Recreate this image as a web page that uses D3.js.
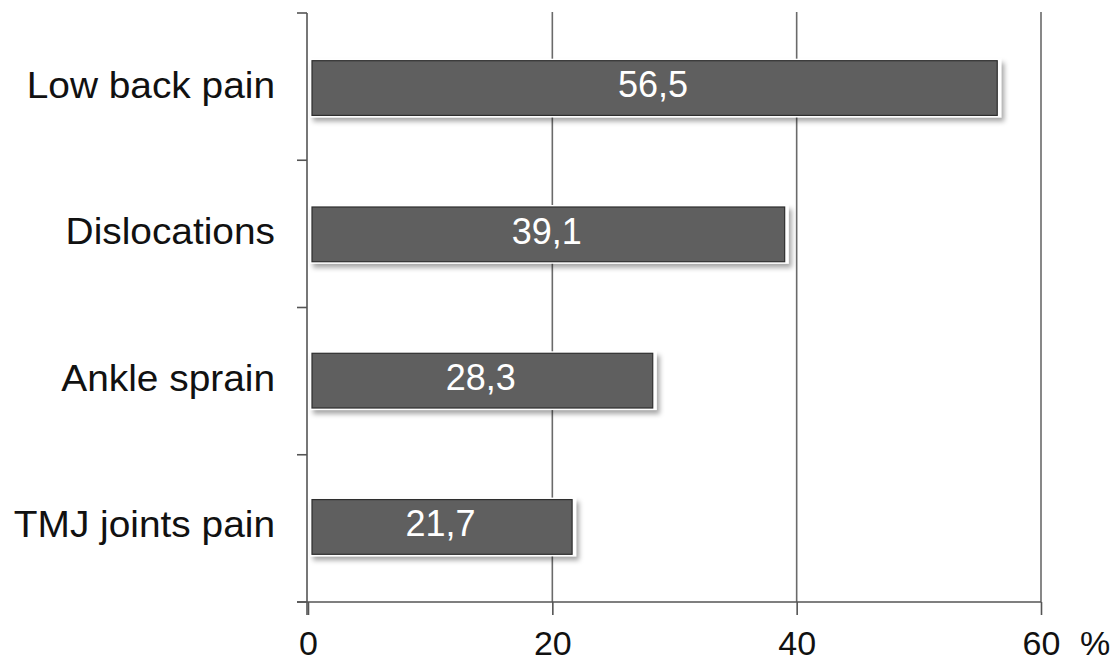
<!DOCTYPE html>
<html>
<head>
<meta charset="utf-8">
<script src="https://cdn.jsdelivr.net/npm/d3@7"></script>
<style>
  html, body { margin: 0; padding: 0; background: #ffffff; }
  svg { display: block; }
  text { font-family: "Liberation Sans", Arial, sans-serif; }
</style>
</head>
<body>
<svg id="chart" width="1118" height="663"></svg>
<script>
// Share of respondents reporting each condition, %
const categories = ["Low back pain", "Dislocations", "Ankle sprain", "TMJ joints pain"];
const values = [56.5, 39.1, 28.3, 21.7];
const valueLabels = ["56,5", "39,1", "28,3", "21,7"];
const xTicks = [0, 20, 40, 60];
const unitLabel = "%";

const svg = d3.select("#chart");

const plot = { left: 308, right: 1041, top: 13, bottom: 602 };

const x = d3.scaleLinear().domain([0, 60]).range([plot.left, plot.right]);
const y = d3.scaleBand()
  .domain(categories)
  .range([plot.top, plot.bottom])
  .paddingInner(0.626)
  .paddingOuter(0.326);

// Soft shadow under each bar
const defs = svg.append("defs");
const shadow = defs.append("filter").attr("id", "barShadow")
  .attr("x", "-5%").attr("y", "-30%").attr("width", "115%").attr("height", "170%");
shadow.append("feDropShadow")
  .attr("dx", 3).attr("dy", 4).attr("stdDeviation", 2.5)
  .attr("flood-color", "#000").attr("flood-opacity", 0.35);

// Vertical gridlines
svg.append("g").selectAll("line")
  .data(xTicks.filter(d => d > 0))
  .join("line")
  .attr("x1", d => x(d)).attr("x2", d => x(d))
  .attr("y1", plot.top - 1).attr("y2", plot.bottom)
  .attr("stroke", "#6a6a6a").attr("stroke-width", 1.6);

// Bottom axis
const xAxis = d3.axisBottom(x).tickValues(xTicks).tickSize(13).tickPadding(8).tickFormat(d3.format("d"));
const gx = svg.append("g").attr("transform", `translate(0,${plot.bottom})`).call(xAxis);
gx.select(".domain").remove();
gx.selectAll(".tick line").attr("stroke", "#555").attr("stroke-width", 1.6);
gx.selectAll(".tick text")
  .attr("fill", "#111").attr("font-size", 34).attr("dy", null)
  .attr("y", 53);
svg.append("line")
  .attr("x1", plot.left - 11).attr("x2", plot.right)
  .attr("y1", plot.bottom).attr("y2", plot.bottom)
  .attr("stroke", "#555").attr("stroke-width", 1.6);

svg.append("text")
  .attr("x", 1095).attr("y", plot.bottom + 53)
  .attr("text-anchor", "middle")
  .attr("font-size", 34).attr("fill", "#111")
  .text(unitLabel);

// Left axis with ticks between categories
const yAxisLine = svg.append("g");
yAxisLine.append("line")
  .attr("x1", plot.left - 1).attr("x2", plot.left - 1)
  .attr("y1", plot.top).attr("y2", plot.bottom + 13)
  .attr("stroke", "#555").attr("stroke-width", 1.6);
const boundaries = d3.range(categories.length + 1).map(i => plot.top + i * (plot.bottom - plot.top) / categories.length);
yAxisLine.selectAll("line.tk")
  .data(boundaries)
  .join("line").attr("class", "tk")
  .attr("x1", plot.left - 11).attr("x2", plot.left - 1)
  .attr("y1", d => d).attr("y2", d => d)
  .attr("stroke", "#555").attr("stroke-width", 1.6);

// Category labels (slightly wide face)
svg.append("g").selectAll("text")
  .data(categories)
  .join("text")
  .attr("transform", d => `translate(275,${y(d) + y.bandwidth() / 2}) scale(1.05,1)`)
  .attr("dy", "0.27em")
  .attr("text-anchor", "end")
  .attr("font-size", 37)
  .attr("fill", "#111")
  .text(d => d);

// Bars: white outline with shadow, then dark fill with thin border
const bars = svg.append("g").selectAll("g")
  .data(categories.map((c, i) => ({ c, v: values[i], label: valueLabels[i] })))
  .join("g");

bars.append("rect")
  .attr("x", x(0) + 2)
  .attr("y", d => y(d.c) - 2)
  .attr("width", d => x(d.v) - x(0) + 1)
  .attr("height", y.bandwidth() + 4)
  .attr("fill", "#ffffff")
  .attr("filter", "url(#barShadow)");

bars.append("rect")
  .attr("x", x(0) + 4)
  .attr("y", d => y(d.c))
  .attr("width", d => x(d.v) - x(0) - 5)
  .attr("height", y.bandwidth())
  .attr("fill", "#5f5f5f")
  .attr("stroke", "#2e2e2e")
  .attr("stroke-width", 1.2);

bars.append("text")
  .attr("x", d => (x(0) + x(d.v)) / 2)
  .attr("y", d => y(d.c) + y.bandwidth() / 2)
  .attr("dy", "0.26em")
  .attr("text-anchor", "middle")
  .attr("font-size", 36)
  .attr("fill", "#ffffff")
  .text(d => d.label);
</script>
</body>
</html>
